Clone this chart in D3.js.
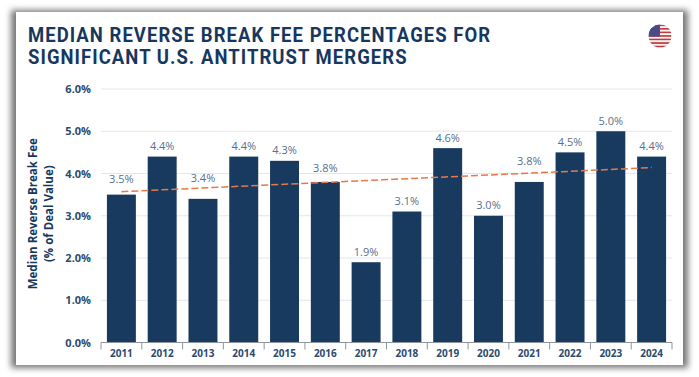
<!DOCTYPE html>
<html>
<head>
<meta charset="utf-8">
<script src="https://cdn.jsdelivr.net/npm/d3@7"></script>
<style>
  html, body { margin: 0; padding: 0; background: #fff; }
  svg { display: block; }
  .title { font-family: "Roboto", sans-serif; font-weight: 700; font-size: 21px; letter-spacing: 1.2px; fill: #17375e; }
  .tick-label { font-family: "Open Sans", sans-serif; font-weight: 700; font-size: 11px; fill: #2c4a6e; }
  .value-label { font-family: "Open Sans", sans-serif; font-size: 11px; fill: #55708f; }
  .axis-title { font-family: "Open Sans", sans-serif; font-weight: 700; font-size: 11.5px; fill: #17375e; }
</style>
</head>
<body>
<div id="box-div"></div>
<script>
const years = ['2011', '2012', '2013', '2014', '2015', '2016', '2017', '2018', '2019', '2020', '2021', '2022', '2023', '2024']
const fees = [3.5, 4.4, 3.4, 4.4, 4.3, 3.8, 1.9, 3.1, 4.6, 3.0, 3.8, 4.5, 5.0, 4.4]
const yTicks = [0, 1, 2, 3, 4, 5, 6]
const trendYears = ['2011', '2024']
const trendValues = [3.57, 4.14]
const titleLines = ['MEDIAN REVERSE BREAK FEE PERCENTAGES FOR', 'SIGNIFICANT U.S. ANTITRUST MERGERS']
const axisTitleLines = ['Median Reverse Break Fee', '(% of Deal Value)']

let dms = { width: 699, height: 377, left: 101, right: 672, top: 89, bottom: 342.5 }

const box = d3.select('#box-div').append('svg')
    .attr('width', dms.width)
    .attr('height', dms.height)

// panel shadow
const defs = box.append('defs')
defs.append('filter')
    .attr('id', 'panel-shadow')
    .attr('x', '-5%').attr('y', '-5%').attr('width', '110%').attr('height', '110%')
    .append('feGaussianBlur')
    .attr('stdDeviation', 3)

box.append('rect')
    .attr('x', 11).attr('y', 10)
    .attr('width', 677).attr('height', 358)
    .attr('fill', '#777')
    .attr('filter', 'url(#panel-shadow)')
box.append('rect')
    .attr('x', 16).attr('y', 12)
    .attr('width', 667).attr('height', 353)
    .attr('fill', '#fff')

// title, squeezed to the condensed look of the original
box.append('g').selectAll('text')
    .data(titleLines)
    .join('text')
    .attr('class', 'title')
    .attr('transform', (d, i) => `translate(28, ${42 + i * 22}) scale(0.88, 1)`)
    .text(d => d)

const xScale = d3.scaleBand()
    .domain(years)
    .range([dms.left, dms.right])
    .paddingInner(0.29)
    .paddingOuter(0.145)

const yScale = d3.scaleLinear()
    .domain([0, 6])
    .range([dms.bottom, dms.top])

// gridlines
box.append('g').selectAll('line')
    .data(yTicks.slice(1))
    .join('line')
    .attr('x1', dms.left)
    .attr('x2', dms.right)
    .attr('y1', d => yScale(d))
    .attr('y2', d => yScale(d))
    .attr('stroke', '#e4e6e8')
    .attr('stroke-width', 1)

// y tick labels
box.append('g').selectAll('text')
    .data(yTicks)
    .join('text')
    .attr('class', 'tick-label')
    .attr('x', 91)
    .attr('y', d => yScale(d) + 4)
    .attr('text-anchor', 'end')
    .text(d => d.toFixed(1) + '%')

// bars
box.append('g').selectAll('rect')
    .data(years)
    .join('rect')
    .attr('x', d => xScale(d))
    .attr('y', (d, i) => yScale(fees[i]))
    .attr('width', xScale.bandwidth())
    .attr('height', (d, i) => dms.bottom - yScale(fees[i]))
    .attr('fill', '#173a5e')

// value labels, some lifted clear of the trend line
const labelLift = { 2011: 5, 2013: 10, 2016: 3, 2021: 10 }
box.append('g').selectAll('text')
    .data(years)
    .join('text')
    .attr('class', 'value-label')
    .attr('x', d => xScale(d) + xScale.bandwidth() / 2)
    .attr('y', (d, i) => yScale(fees[i]) - 6.5 - (labelLift[d] || 0))
    .attr('text-anchor', 'middle')
    .text((d, i) => fees[i].toFixed(1) + '%')

// x axis
const xAxis = box.append('g')
    .attr('transform', `translate(0, ${dms.bottom})`)
    .call(d3.axisBottom(xScale).tickSize(0))
xAxis.select('.domain').remove()
xAxis.selectAll('text')
    .attr('class', 'tick-label')
    .attr('fill', null)
    .style('font-size', '10px')
    .attr('y', 7)
    .attr('dy', '0.71em')

const boundaries = d3.range(years.length + 1).map(i => dms.left + i * xScale.step())
const axisColor = '#8d959e'
box.append('line')
    .attr('x1', dms.left).attr('x2', dms.right)
    .attr('y1', dms.bottom).attr('y2', dms.bottom)
    .attr('stroke', axisColor)
box.append('g').selectAll('line')
    .data(boundaries)
    .join('line')
    .attr('x1', d => d).attr('x2', d => d)
    .attr('y1', dms.bottom).attr('y2', dms.bottom + 7)
    .attr('stroke', axisColor)

// trend line
box.append('path')
    .attr('d', d3.line()
        .x(d => xScale(d[0]) + xScale.bandwidth() / 2)
        .y(d => yScale(d[1]))(trendYears.map((y, i) => [y, trendValues[i]])))
    .attr('fill', 'none')
    .attr('stroke', '#e8784a')
    .attr('stroke-width', 1.5)
    .attr('stroke-dasharray', '7 3')

// y axis title
const axisTitle = box.append('text')
    .attr('class', 'axis-title')
    .attr('text-anchor', 'middle')
    .attr('transform', `translate(37, ${(dms.top + dms.bottom) / 2 - 2}) rotate(-90)`)
axisTitle.selectAll('tspan')
    .data(axisTitleLines)
    .join('tspan')
    .attr('x', 0)
    .attr('dy', (d, i) => i === 0 ? 0 : 16)
    .text(d => d)

// flag
const flagR = 11.5, flagX = 660, flagY = 36
const stripes = d3.range(13)
const flag = box.append('g')
defs.append('clipPath').attr('id', 'flag-clip')
    .append('circle').attr('cx', flagX).attr('cy', flagY).attr('r', flagR)
const flagInner = flag.append('g').attr('clip-path', 'url(#flag-clip)')
const stripeScale = d3.scaleBand().domain(stripes).range([flagY - flagR, flagY + flagR])
flagInner.selectAll('rect')
    .data(stripes)
    .join('rect')
    .attr('x', flagX - flagR)
    .attr('y', d => stripeScale(d))
    .attr('width', flagR * 2)
    .attr('height', stripeScale.bandwidth())
    .attr('fill', d => d % 2 === 0 ? '#c0393f' : '#f5f0f0')
flagInner.append('rect')
    .attr('x', flagX - flagR)
    .attr('y', flagY - flagR)
    .attr('width', flagR)
    .attr('height', flagR * 1.05)
    .attr('fill', '#4a4a85')
</script>
</body>
</html>
